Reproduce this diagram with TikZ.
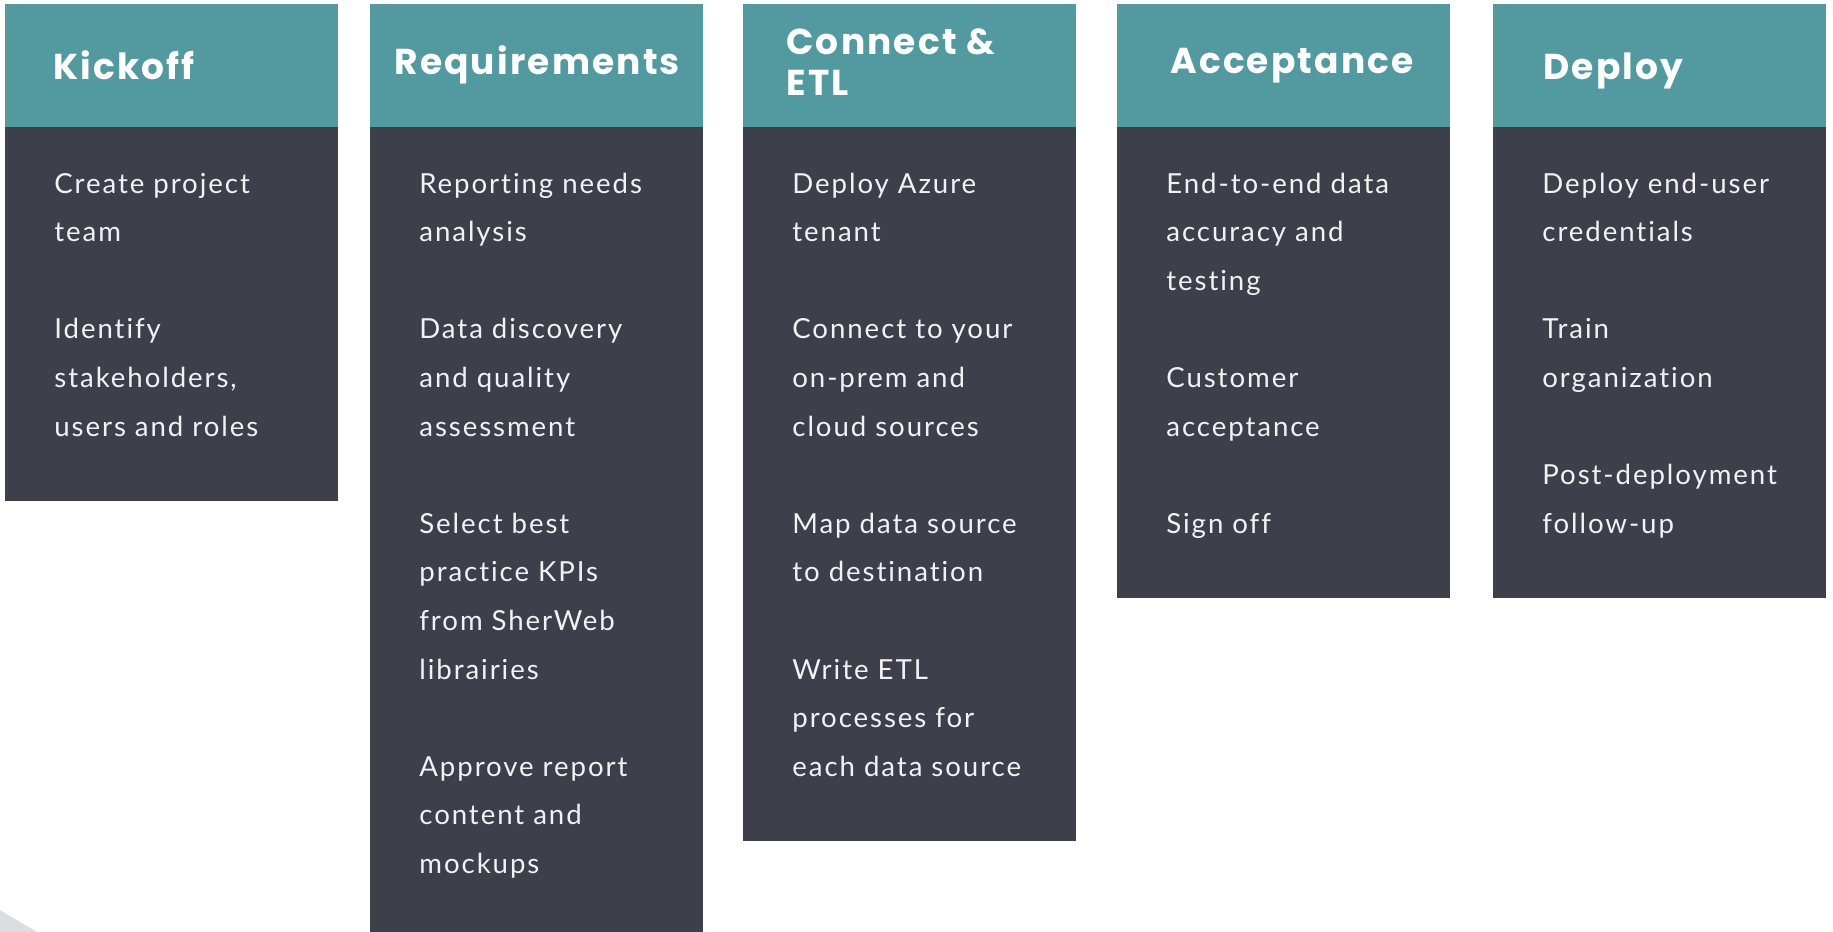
\documentclass[tikz,border=0pt]{standalone}
\usepackage{fontspec}
\setmainfont{Lato}[LetterSpace=7.0,Ligatures={NoCommon,NoRare}]
\newfontfamily\titlefont[LetterSpace=6.0]{Poppins}
\definecolor{teal}{HTML}{5399A0}
\definecolor{slate}{HTML}{3D404B}
\definecolor{bodytxt}{HTML}{F2F2F2}
\definecolor{corner}{HTML}{DCDDDF}
\tikzset{
  head/.style={fill=teal},
  panel/.style={fill=slate},
  title/.style={anchor=base west, inner sep=0pt, text=white, font=\titlefont\bfseries\fontsize{18}{20}\selectfont},
  item/.style={anchor=base west, inner sep=0pt, text=bodytxt, font=\fontsize{13.8}{16}\selectfont},
}
\begin{document}
\begin{tikzpicture}[x=0.5pt,y=-0.5pt]
\useasboundingbox (0,0) rectangle (1833,932);
\fill[white] (0,0) rectangle (1833,932);
\fill[corner] (0,910) -- (37,932) -- (0,932) -- cycle;
% columns: left x, bottom y
\foreach \cx/\by [count=\c] in {5/501, 370/932, 743/841, 1117/598, 1493/598} {
  \fill[panel] (\cx,127) rectangle (\cx+333,\by);
  \fill[head] (\cx,4) rectangle (\cx+333,127);
}
% titles
\node[title] (t1) at (53,79) {Kickoff};
\node[title] (t2) at (394,74) {Requirements};
\node[title] (t3a) at (786,54) {Connect \&};
\node[title] (t3b) at (786,95) {ETL};
\node[title] (t4) at (1170,73) {Acceptance};
\node[title] (t5) at (1543,79) {Deploy};
% items
\foreach \t [count=\i from 0] in {Create project, team, , Identify, {stakeholders,}, users and roles}
  \node[item] (a\i) at (54,193+48.6*\i) {\t};
\foreach \t [count=\i from 0] in {Reporting needs, analysis, , Data discovery, and quality, assessment, , Select best, practice KPIs, from SherWeb, librairies, , Approve report, content and, mockups}
  \node[item] (b\i) at (419,193+48.6*\i) {\t};
\foreach \t [count=\i from 0] in {Deploy Azure, tenant, , Connect to your, on-prem and, cloud sources, , Map data source, to destination, , Write ETL, processes for, each data source}
  \node[item] (c\i) at (792,193+48.6*\i) {\t};
\foreach \t [count=\i from 0] in {End-to-end data, accuracy and, testing, , Customer, acceptance, , Sign off}
  \node[item] (d\i) at (1166,193+48.6*\i) {\t};
\foreach \t [count=\i from 0] in {Deploy end-user, credentials, , Train, organization, , Post-deployment, follow-up}
  \node[item] (e\i) at (1542,193+48.6*\i) {\t};
\end{tikzpicture}
\end{document}
